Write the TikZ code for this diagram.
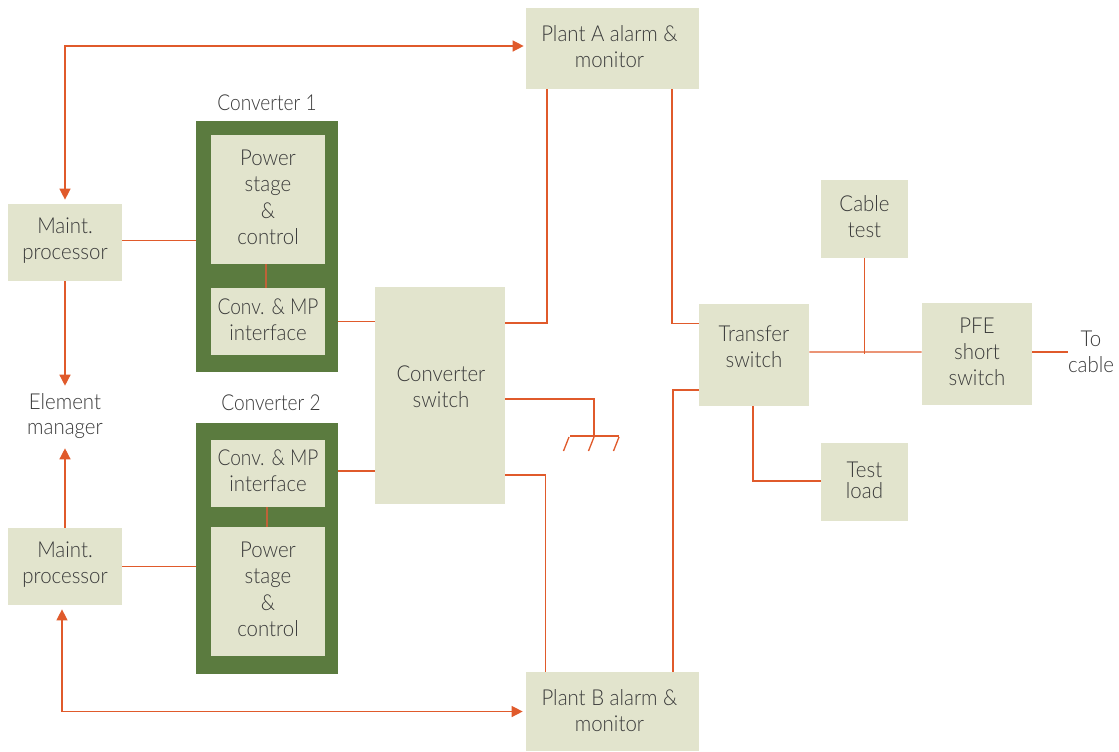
\documentclass[tikz,border=0pt]{standalone}
\usepackage{fontspec}
\setmainfont{Lato}[UprightFont=* Light,FakeStretch=0.93]
\newfontfamily\tightfont{Lato}[UprightFont=* Light,FakeStretch=0.87]
\usepackage{xcolor}
\usetikzlibrary{arrows.meta}
\definecolor{moss}{HTML}{5B7B3F}
\definecolor{sand}{HTML}{E2E4CD}
\definecolor{rust}{HTML}{E05A2B}
\definecolor{umber}{HTML}{BE6238}
\definecolor{ink}{HTML}{3A3A3A}
\tikzset{
  box/.style={fill=sand,inner sep=0pt},
  lbl/.style={text=ink,align=center,inner sep=0pt,font=\fontsize{12.5}{14.7}\selectfont},
  say/.style={label={[lbl,yshift=0.4mm]center:{#1}}},
  shell/.style={fill=moss,inner sep=0pt,minimum width=28.4mm,minimum height=50.2mm},
  cell/.style={box,minimum width=22.8mm},
  wire/.style={draw=rust,line width=0.75pt},
  arr/.style={wire,-{Triangle[length=2.2mm,width=2.2mm]}},
  arrb/.style={wire,{Triangle[length=2.2mm,width=2.2mm]}-{Triangle[length=2.2mm,width=2.2mm]}},
  link/.style={draw=umber,line width=0.75pt},
}
\begin{document}
\begin{tikzpicture}[x=0.02cm,y=-0.02cm]
\useasboundingbox (0,0) rectangle (1119,751);
\node[shell] (conv1) at (267,246.5) {};
\node[shell] (conv2) at (267,548.5) {};
\node[cell,minimum height=25.8mm,say={Power\\[0.4pt] stage\\[0.4pt] \&\\[0.4pt] control}] (pow1) at (268,199.5) {};
\node[cell,minimum height=13.4mm,say={{\tightfont Conv. \& MP}\\ interface}] (ifc1) at (268,321.5) {};
\node[cell,minimum height=13.4mm,label={[lbl,yshift=0.6mm]center:{{\tightfont Conv. \& MP}\\ interface}}] (ifc2) at (268,473.5) {};
\node[cell,minimum height=25.8mm,say={Power\\[0.4pt] stage\\[0.4pt] \&\\[0.4pt] control}] (pow2) at (268,591.5) {};
\node[lbl,font=\fontsize{12.5}{14.7}\tightfont] (name1) at (267,103) {Converter 1};
\node[lbl,font=\fontsize{12.5}{14.7}\tightfont] (name2) at (271,403) {Converter 2};
\node[box,minimum width=22.8mm,minimum height=15.4mm,say={Maint.\\ processor}] (mp1) at (65,242.5) {};
\node[box,minimum width=22.8mm,minimum height=15.4mm,say={Maint.\\ processor}] (mp2) at (65,566.5) {};
\node[lbl] (em) at (65,416) {Element\\ manager};
\node[box,minimum width=26mm,minimum height=43.4mm,label={[lbl,xshift=0.2mm,yshift=1.7mm]center:{Converter\\ switch}}] (sw) at (440,395.5) {};
\node[box,minimum width=34.6mm,minimum height=16.2mm,label={[lbl,xshift=-0.6mm,yshift=0.4mm]center:{Plant A alarm \&\\ monitor}}] (planta) at (612.5,48.5) {};
\node[box,minimum width=34.6mm,minimum height=15.8mm,label={[lbl,xshift=-0.6mm,yshift=0.2mm]center:{Plant B alarm \&\\ monitor}}] (plantb) at (612.5,711.5) {};
\node[box,minimum width=22mm,minimum height=20.4mm,label={[lbl,yshift=1.6mm]center:{Transfer\\ switch}}] (trans) at (754,355) {};
\node[box,minimum width=17.4mm,minimum height=15.6mm,say={Cable\\ test}] (ctest) at (864.5,219) {};
\node[box,minimum width=22mm,minimum height=20.4mm,say={PFE\\ short\\ switch}] (pfe) at (977,354) {};
\node[box,minimum width=17.4mm,minimum height=15.6mm,say={Test\\[-1mm] load}] (tload) at (864.5,482) {};
\node[lbl] (cable) at (1091,352) {To\\ cable};
% ground symbol
\coordinate (gnd) at (594,436);
\draw[wire] (570,436) -- (619,436);
\foreach \x in {569,594,619} \draw[wire] (\x,437) -- (\x-5.5,451);
% maintenance paths
\draw[arrb,shorten <=0.8mm,shorten >=0.4mm] (mp1.north) |- ([yshift=0.5mm]planta.west);
\draw[arrb,shorten <=0.8mm,shorten >=0.6mm] ([xshift=-0.6mm]mp2.south) |- (plantb.west);
\draw[arr,shorten >=1.4mm] (mp1.south) -- (em.north);
\draw[arr,shorten >=1.8mm] (mp2.north) -- (em.south);
\draw[wire] ([yshift=0.4mm]mp1.east) -- ([yshift=0.4mm]mp1.east -| conv1.west);
\draw[wire] (mp2.east) -- (mp2.east -| conv2.west);
\draw[link] ([xshift=-0.4mm]pow1.south) -- ([xshift=-0.4mm]ifc1.north);
\draw[link] ([xshift=-0.2mm]ifc2.south) -- ([xshift=-0.2mm]pow2.north);
\draw[wire] (ifc1.east -| conv1.east) -- (ifc1.east -| sw.west);
\draw[wire] ([yshift=0.5mm]ifc2.east -| conv2.east) -- ([yshift=0.5mm]ifc2.east -| sw.west);
% converter switch to plants and ground
\draw[wire] ([yshift=14.5mm]sw.east) -| ([xshift=-13.1mm]planta.south);
\draw[wire] (sw.east |- 0,399) -| (gnd);
\draw[wire] ([yshift=-15.9mm]sw.east) -| ([xshift=-13.4mm]plantb.north);
% transfer switch side
\draw[wire] ([xshift=11.9mm]planta.south) |- ([yshift=6.3mm]trans.west);
\draw[wire] ([xshift=12.1mm]plantb.north) |- ([yshift=-7mm]trans.west);
\draw[wire] ([yshift=0.6mm]trans.east) -- ([yshift=0.4mm]pfe.west);
\draw[wire] (ctest.south) -- (ctest.south |- pfe.west);
\draw[wire] ([xshift=-0.2mm]trans.south) |- ([yshift=0.2mm]tload.west);
\draw[wire] ([yshift=0.4mm]pfe.east) -- ([yshift=0.4mm]pfe.east -| cable.west);
\end{tikzpicture}
\end{document}
